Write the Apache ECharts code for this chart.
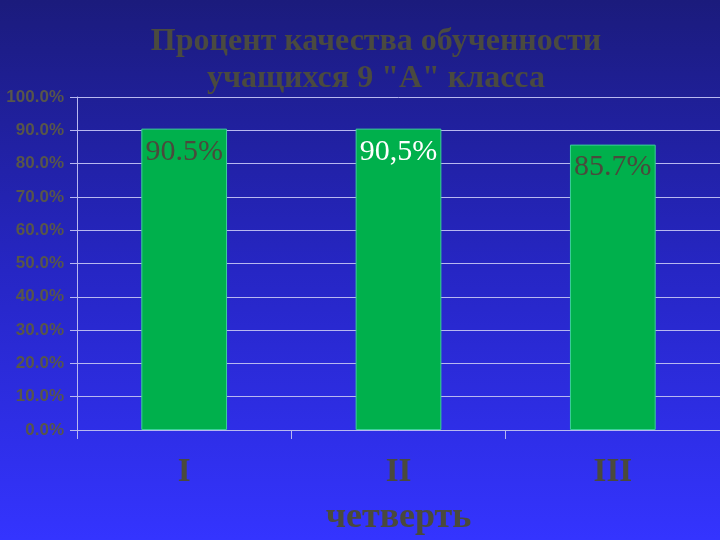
<!DOCTYPE html>
<html><head><meta charset="utf-8">
<script src="https://cdn.jsdelivr.net/npm/echarts@6/dist/echarts.min.js"></script>
<style>html,body{margin:0;padding:0;}#c{width:720px;height:540px;}</style>
</head><body><div id="c"></div>
<script>
const categories = ['I', 'II', 'III'];
const values = [90.5, 90.5, 85.7];
const valueLabels = ['90.5%', '90,5%', '85.7%'];
const labelColors = ['#4a4a3c', '#ffffff', '#4a4a3c'];
const titleLines = ['Процент качества обученности', 'учащихся 9 "А" класса'];
const axisName = 'четверть';

const chart = echarts.init(document.getElementById('c'));
const lineCol = '#b8b8f0';
chart.setOption({
  animation: false,
  backgroundColor: new echarts.graphic.LinearGradient(0, 0, 0, 1, [
    {offset: 0, color: '#1b1b7c'},
    {offset: 0.5, color: '#2626c4'},
    {offset: 1, color: '#3434ff'}
  ]),
  title: {
    text: titleLines.join('\n'),
    left: 371, top: 18, textAlign: 'center',
    textStyle: {fontFamily: 'Liberation Serif', fontWeight: 'bold', fontSize: 32, lineHeight: 37, color: '#4a4a40'}
  },
  grid: {left: 77, right: 0, top: 97, bottom: 110, containLabel: false, outerBoundsMode: 'none'},
  xAxis: {
    type: 'category', data: categories,
    name: axisName, nameLocation: 'middle', nameGap: 70,
    nameTextStyle: {fontFamily: 'Liberation Serif', fontWeight: 'bold', fontSize: 36, color: '#4a4a3c'},
    axisLine: {show: true, lineStyle: {color: lineCol, width: 1}},
    axisTick: {show: true, length: 9, lineStyle: {color: lineCol}},
    axisLabel: {fontFamily: 'Liberation Serif', fontWeight: 'bold', fontSize: 33, color: '#4a4a3c', margin: 26}
  },
  yAxis: {
    type: 'value', min: 0, max: 100, interval: 10,
    axisLine: {show: true, lineStyle: {color: lineCol, width: 1}},
    axisTick: {show: true, length: 7, lineStyle: {color: lineCol}},
    splitLine: {show: true, lineStyle: {color: lineCol, width: 1}},
    axisLabel: {formatter: v => v.toFixed(1) + '%', fontFamily: 'Liberation Sans', fontWeight: 'bold', fontSize: 17, color: '#58564a', margin: 13}
  },
  series: [{
    type: 'bar', barWidth: '40%',
    data: values.map((v, i) => ({
      value: v,
      label: {formatter: valueLabels[i], color: labelColors[i]}
    })),
    itemStyle: {color: '#00b04c', borderColor: '#3ccf9a', borderWidth: 1},
    label: {show: true, position: 'insideTop', distance: 8, fontFamily: 'Liberation Serif', fontSize: 30}
  }]
});
</script></body></html>
